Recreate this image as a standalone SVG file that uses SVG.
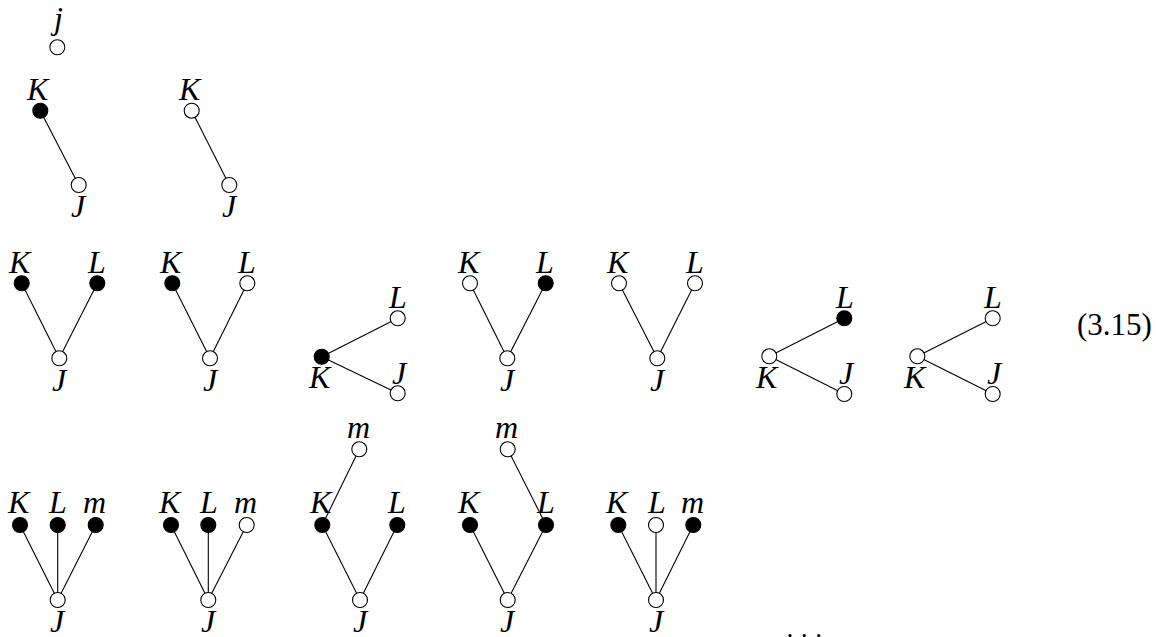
<svg xmlns="http://www.w3.org/2000/svg" width="1156" height="637" viewBox="0 0 1156 637">
  <defs>
    <!-- vertex markers: hollow and filled -->
    <circle id="vo" r="7.5" fill="#fff" stroke="#000" stroke-width="1.1"/>
    <circle id="vf" r="7.5" fill="#000" stroke="#000" stroke-width="1.1"/>
  </defs>
  <rect width="1156" height="637" fill="#fff"/>

  <!-- edges, drawn beneath the vertices -->
  <g id="connectors" stroke="#000" stroke-width="1.1" fill="none">
    <line x1="40.3" y1="110.7" x2="78.7" y2="185"/>
    <line x1="191.7" y1="110.7" x2="229.3" y2="185"/>
    <line x1="21.7" y1="283.3" x2="59.3" y2="358.3"/>
    <line x1="97.3" y1="283.3" x2="59.3" y2="358.3"/>
    <line x1="172.3" y1="283.3" x2="210" y2="358.3"/>
    <line x1="247.3" y1="283.3" x2="210" y2="358.3"/>
    <line x1="321.7" y1="356.7" x2="397.7" y2="318.3"/>
    <line x1="321.7" y1="356.7" x2="397.7" y2="393.3"/>
    <line x1="470" y1="283.3" x2="507.3" y2="358.3"/>
    <line x1="545.7" y1="283.3" x2="507.3" y2="358.3"/>
    <line x1="619" y1="283.3" x2="657.3" y2="358.3"/>
    <line x1="695" y1="283.3" x2="657.3" y2="358.3"/>
    <line x1="769.3" y1="356.3" x2="844.3" y2="318.3"/>
    <line x1="769.3" y1="356.3" x2="844.3" y2="394"/>
    <line x1="917.3" y1="356.3" x2="992.7" y2="318.3"/>
    <line x1="917.3" y1="356.3" x2="992.7" y2="394"/>
    <line x1="20" y1="525" x2="57.7" y2="600"/>
    <line x1="57.7" y1="525" x2="57.7" y2="600"/>
    <line x1="95.7" y1="525" x2="57.7" y2="600"/>
    <line x1="171" y1="525" x2="208.3" y2="600"/>
    <line x1="208.3" y1="525" x2="208.3" y2="600"/>
    <line x1="246.7" y1="525" x2="208.3" y2="600"/>
    <line x1="359.3" y1="449.3" x2="322.3" y2="525"/>
    <line x1="322.3" y1="525" x2="360" y2="600"/>
    <line x1="397.3" y1="525" x2="360" y2="600"/>
    <line x1="507.7" y1="449.3" x2="546" y2="525"/>
    <line x1="470" y1="525" x2="507.7" y2="600"/>
    <line x1="546" y1="525" x2="507.7" y2="600"/>
    <line x1="618.3" y1="525" x2="656" y2="600"/>
    <line x1="656" y1="525" x2="656" y2="600"/>
    <line x1="693.3" y1="525" x2="656" y2="600"/>
  </g>

  <!-- row 1 -->
  <g id="t0-j"><use href="#vo" x="57.3" y="47.3"/><text x="54" y="29" font-family="Liberation Serif" font-style="italic" font-size="32">j</text></g>
  <g id="t1-K"><use href="#vf" x="40.3" y="110.7"/><text x="27" y="100" font-family="Liberation Serif" font-style="italic" font-size="32">K</text></g>
  <g id="t1-J"><use href="#vo" x="78.7" y="185"/><text x="71" y="217" font-family="Liberation Serif" font-style="italic" font-size="32">J</text></g>
  <g id="t2-K"><use href="#vo" x="191.7" y="110.7"/><text x="179" y="100" font-family="Liberation Serif" font-style="italic" font-size="32">K</text></g>
  <g id="t2-J"><use href="#vo" x="229.3" y="185"/><text x="222" y="217" font-family="Liberation Serif" font-style="italic" font-size="32">J</text></g>

  <!-- row 2 -->
  <g id="t3-K"><use href="#vf" x="21.7" y="283.3"/><text x="9" y="273" font-family="Liberation Serif" font-style="italic" font-size="32">K</text></g>
  <g id="t3-L"><use href="#vf" x="97.3" y="283.3"/><text x="88" y="273" font-family="Liberation Serif" font-style="italic" font-size="32">L</text></g>
  <g id="t3-J"><use href="#vo" x="59.3" y="358.3"/><text x="52" y="391" font-family="Liberation Serif" font-style="italic" font-size="32">J</text></g>
  <g id="t4-K"><use href="#vf" x="172.3" y="283.3"/><text x="160" y="273" font-family="Liberation Serif" font-style="italic" font-size="32">K</text></g>
  <g id="t4-L"><use href="#vo" x="247.3" y="283.3"/><text x="238" y="273" font-family="Liberation Serif" font-style="italic" font-size="32">L</text></g>
  <g id="t4-J"><use href="#vo" x="210" y="358.3"/><text x="203" y="391" font-family="Liberation Serif" font-style="italic" font-size="32">J</text></g>
  <g id="t5-K"><use href="#vf" x="321.7" y="356.7"/><text x="309" y="388" font-family="Liberation Serif" font-style="italic" font-size="32">K</text></g>
  <g id="t5-L"><use href="#vo" x="397.7" y="318.3"/><text x="389" y="308" font-family="Liberation Serif" font-style="italic" font-size="32">L</text></g>
  <g id="t5-J"><use href="#vo" x="397.7" y="393.3"/><text x="392" y="384" font-family="Liberation Serif" font-style="italic" font-size="32">J</text></g>
  <g id="t6-K"><use href="#vo" x="470" y="283.3"/><text x="458" y="273" font-family="Liberation Serif" font-style="italic" font-size="32">K</text></g>
  <g id="t6-L"><use href="#vf" x="545.7" y="283.3"/><text x="536" y="273" font-family="Liberation Serif" font-style="italic" font-size="32">L</text></g>
  <g id="t6-J"><use href="#vo" x="507.3" y="358.3"/><text x="500" y="391" font-family="Liberation Serif" font-style="italic" font-size="32">J</text></g>
  <g id="t7-K"><use href="#vo" x="619" y="283.3"/><text x="607" y="273" font-family="Liberation Serif" font-style="italic" font-size="32">K</text></g>
  <g id="t7-L"><use href="#vo" x="695" y="283.3"/><text x="686" y="273" font-family="Liberation Serif" font-style="italic" font-size="32">L</text></g>
  <g id="t7-J"><use href="#vo" x="657.3" y="358.3"/><text x="650" y="391" font-family="Liberation Serif" font-style="italic" font-size="32">J</text></g>
  <g id="t8-K"><use href="#vo" x="769.3" y="356.3"/><text x="756" y="388" font-family="Liberation Serif" font-style="italic" font-size="32">K</text></g>
  <g id="t8-L"><use href="#vf" x="844.3" y="318.3"/><text x="836" y="308" font-family="Liberation Serif" font-style="italic" font-size="32">L</text></g>
  <g id="t8-J"><use href="#vo" x="844.3" y="394"/><text x="839" y="384" font-family="Liberation Serif" font-style="italic" font-size="32">J</text></g>
  <g id="t9-K"><use href="#vo" x="917.3" y="356.3"/><text x="904" y="388" font-family="Liberation Serif" font-style="italic" font-size="32">K</text></g>
  <g id="t9-L"><use href="#vo" x="992.7" y="318.3"/><text x="984" y="308" font-family="Liberation Serif" font-style="italic" font-size="32">L</text></g>
  <g id="t9-J"><use href="#vo" x="992.7" y="394"/><text x="987" y="384" font-family="Liberation Serif" font-style="italic" font-size="32">J</text></g>

  <text id="eq-number" x="1077" y="335" font-family="Liberation Serif" font-size="31">(3.15)</text>

  <!-- row 3 -->
  <g id="t10-K"><use href="#vf" x="20" y="525"/><text x="8" y="513" font-family="Liberation Serif" font-style="italic" font-size="32">K</text></g>
  <g id="t10-L"><use href="#vf" x="57.7" y="525"/><text x="49" y="513" font-family="Liberation Serif" font-style="italic" font-size="32">L</text></g>
  <g id="t10-m"><use href="#vf" x="95.7" y="525"/><text x="83" y="513" font-family="Liberation Serif" font-style="italic" font-size="32">m</text></g>
  <g id="t10-J"><use href="#vo" x="57.7" y="600"/><text x="50" y="632" font-family="Liberation Serif" font-style="italic" font-size="32">J</text></g>
  <g id="t11-K"><use href="#vf" x="171" y="525"/><text x="159" y="513" font-family="Liberation Serif" font-style="italic" font-size="32">K</text></g>
  <g id="t11-L"><use href="#vf" x="208.3" y="525"/><text x="200" y="513" font-family="Liberation Serif" font-style="italic" font-size="32">L</text></g>
  <g id="t11-m"><use href="#vo" x="246.7" y="525"/><text x="234" y="513" font-family="Liberation Serif" font-style="italic" font-size="32">m</text></g>
  <g id="t11-J"><use href="#vo" x="208.3" y="600"/><text x="201" y="632" font-family="Liberation Serif" font-style="italic" font-size="32">J</text></g>
  <g id="t12-m"><use href="#vo" x="359.3" y="449.3"/><text x="347" y="438" font-family="Liberation Serif" font-style="italic" font-size="32">m</text></g>
  <g id="t12-K"><use href="#vf" x="322.3" y="525"/><text x="310" y="513" font-family="Liberation Serif" font-style="italic" font-size="32">K</text></g>
  <g id="t12-L"><use href="#vf" x="397.3" y="525"/><text x="388" y="513" font-family="Liberation Serif" font-style="italic" font-size="32">L</text></g>
  <g id="t12-J"><use href="#vo" x="360" y="600"/><text x="353" y="632" font-family="Liberation Serif" font-style="italic" font-size="32">J</text></g>
  <g id="t13-m"><use href="#vo" x="507.7" y="449.3"/><text x="495" y="438" font-family="Liberation Serif" font-style="italic" font-size="32">m</text></g>
  <g id="t13-K"><use href="#vf" x="470" y="525"/><text x="458" y="513" font-family="Liberation Serif" font-style="italic" font-size="32">K</text></g>
  <g id="t13-L"><use href="#vf" x="546" y="525"/><text x="537" y="513" font-family="Liberation Serif" font-style="italic" font-size="32">L</text></g>
  <g id="t13-J"><use href="#vo" x="507.7" y="600"/><text x="500" y="632" font-family="Liberation Serif" font-style="italic" font-size="32">J</text></g>
  <g id="t14-K"><use href="#vf" x="618.3" y="525"/><text x="606" y="513" font-family="Liberation Serif" font-style="italic" font-size="32">K</text></g>
  <g id="t14-L"><use href="#vo" x="656" y="525"/><text x="648" y="513" font-family="Liberation Serif" font-style="italic" font-size="32">L</text></g>
  <g id="t14-m"><use href="#vf" x="693.3" y="525"/><text x="681" y="513" font-family="Liberation Serif" font-style="italic" font-size="32">m</text></g>
  <g id="t14-J"><use href="#vo" x="656" y="600"/><text x="649" y="632" font-family="Liberation Serif" font-style="italic" font-size="32">J</text></g>

  <!-- continuation dots -->
  <g id="ellipsis" fill="#000">
    <circle cx="790" cy="635.5" r="1.6"/>
    <circle cx="804.3" cy="635.5" r="1.6"/>
    <circle cx="818.7" cy="635.5" r="1.6"/>
  </g>
</svg>
